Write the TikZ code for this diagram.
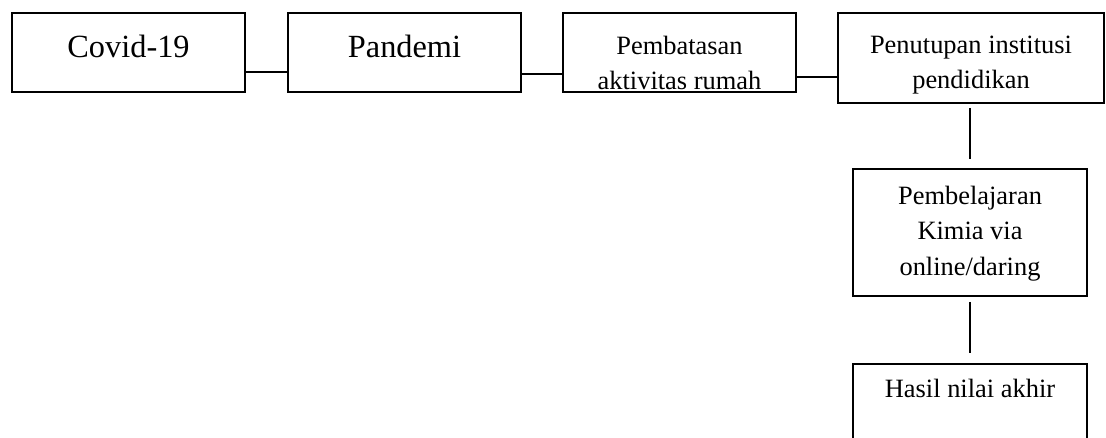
\documentclass[tikz,border=0pt]{standalone}
\usepackage{fontspec}
\setmainfont{Liberation Serif}
\usepackage{tikz}
\usetikzlibrary{positioning, calc}

\begin{document}
\begin{tikzpicture}[x=0.025cm, y=-0.025cm,
    box/.style={draw, line width=1.4pt, inner sep=0pt, align=center, anchor=north west},
    link/.style={line width=1.4pt}]
  % Page frame (1106 x 438)
  \useasboundingbox (0,0) rectangle (1106,438);
  \clip (0,0) rectangle (1106,438);

  % Top row
  \node[box, minimum width=5.825cm, text height=1.125cm, text depth=0.85cm,
        font=\fontsize{23}{27}\selectfont] (covid) at (11,12) {Covid-19};
  \node[box, minimum width=5.825cm, text height=1.125cm, text depth=0.85cm,
        font=\fontsize{23}{27}\selectfont] (pandemi) at (287,12) {Pandemi};
  \node[box, minimum width=5.825cm, text height=1.925cm, text depth=0.05cm,
        font=\fontsize{18.8}{24.9}\selectfont] (pembatasan) at (562,12) {Pembatasan\\aktivitas rumah};
  \node[box, minimum width=6.65cm, text height=1.9cm, text depth=0.35cm,
        font=\fontsize{18.8}{24.9}\selectfont] (penutupan) at (837,12) {Penutupan institusi\\pendidikan};

  % Right column
  \node[box, minimum width=5.85cm, text height=2.65cm, text depth=0.525cm,
        font=\fontsize{18.8}{24.9}\selectfont] (pembelajaran) at (852,168) {Pembelajaran\\Kimia via\\online/daring};
  \node[box, minimum width=5.85cm, text height=0.85cm, text depth=2.5cm,
        font=\fontsize{18.8}{24.9}\selectfont] (hasil) at (852,363) {Hasil nilai akhir};

  % Connectors along the top row
  \draw[link] ($(covid.south east)+(0,-21)$) coordinate (j1) -- (j1 -| pandemi.west);
  \draw[link] ($(pandemi.south east)+(0,-19)$) coordinate (j2) -- (j2 -| pembatasan.west);
  \draw[link] ($(pembatasan.south east)+(0,-16)$) coordinate (j3) -- (j3 -| penutupan.west);

  % Connectors down the column (free of the boxes)
  \draw[link] ($(penutupan.south -| pembelajaran.north)+(0,4)$) -- ($(pembelajaran.north)+(0,-9)$);
  \draw[link] ($(pembelajaran.south)+(0,5)$) -- ($(hasil.north)+(0,-10)$);
\end{tikzpicture}
\end{document}
